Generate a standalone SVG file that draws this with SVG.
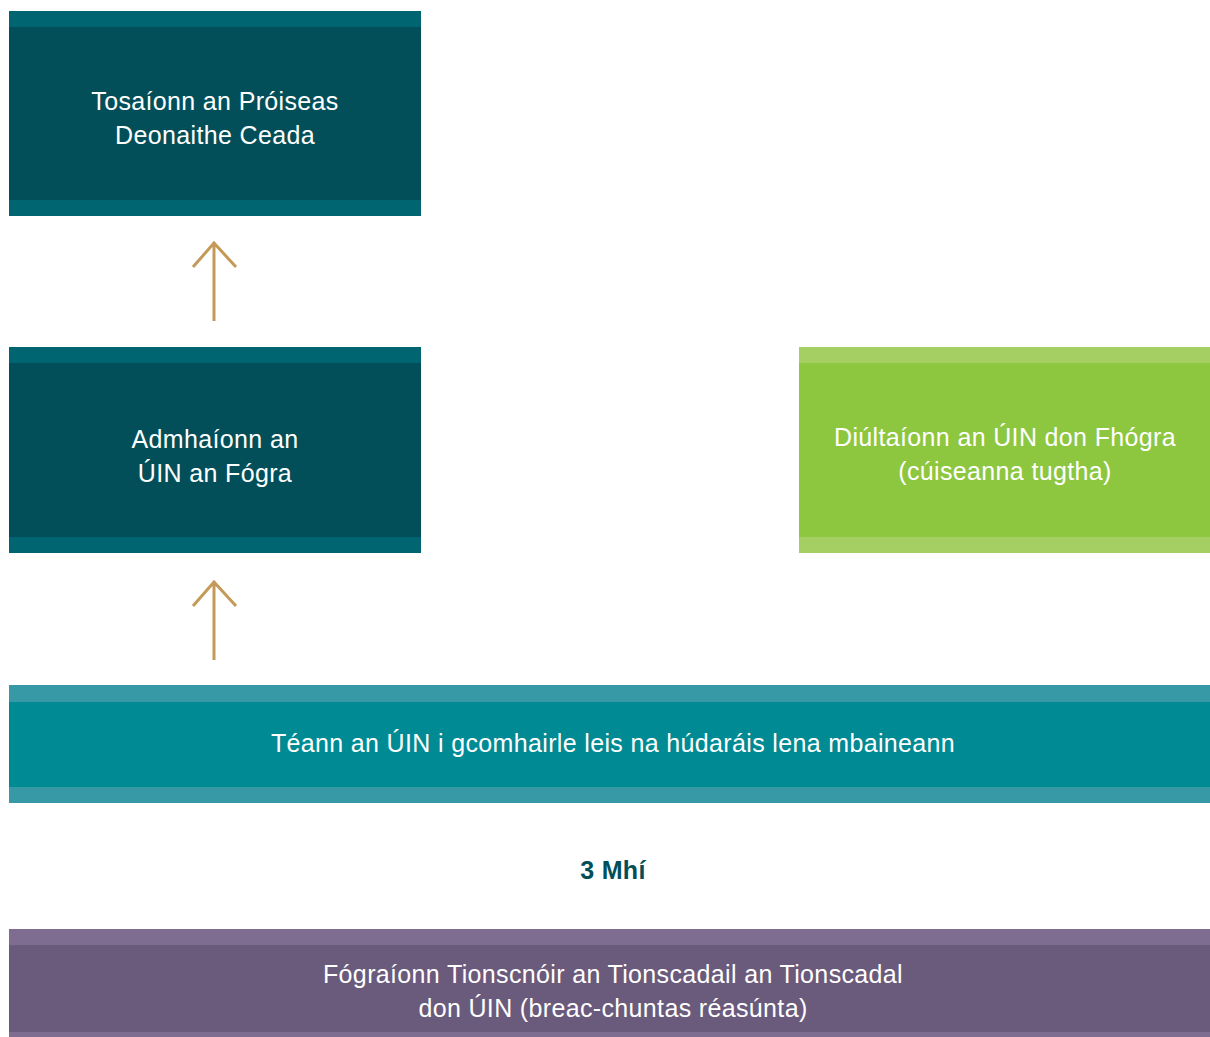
<svg xmlns="http://www.w3.org/2000/svg" width="1210" height="1037" viewBox="0 0 1210 1037">
<style>
.t{font-family:"Liberation Sans",Arial,sans-serif;font-size:25px;letter-spacing:0.35px;fill:#ffffff;text-anchor:middle}
.lbl{font-family:"Liberation Sans",Arial,sans-serif;font-size:25px;letter-spacing:0.3px;font-weight:bold;fill:#024f59;text-anchor:middle}
.arr{stroke:#c49a58;stroke-width:3;fill:none}
</style>
<rect width="1210" height="1037" fill="#ffffff"/>
<g id="node-start">
<rect x="9" y="11" width="412" height="205" fill="#024f59"/>
<rect x="9" y="11" width="412" height="16" fill="#006570"/>
<rect x="9" y="200" width="412" height="16" fill="#006570"/>
<text class="t" x="215" y="110">Tosaíonn an Próiseas</text>
<text class="t" x="215" y="144">Deonaithe Ceada</text>
</g>
<g id="node-accept">
<rect x="9" y="347" width="412" height="206" fill="#024f59"/>
<rect x="9" y="347" width="412" height="16" fill="#006570"/>
<rect x="9" y="537" width="412" height="16" fill="#006570"/>
<text class="t" x="215" y="448">Admhaíonn an</text>
<text class="t" x="215" y="482">ÚIN an Fógra</text>
</g>
<g id="node-reject">
<rect x="799" y="347" width="411" height="206" fill="#8dc63f"/>
<rect x="799" y="347" width="411" height="16" fill="#a5cf63"/>
<rect x="799" y="537" width="411" height="16" fill="#a5cf63"/>
<text class="t" x="1005" y="446">Diúltaíonn an ÚIN don Fhógra</text>
<text class="t" x="1005" y="480">(cúiseanna tugtha)</text>
</g>
<g id="node-consult">
<rect x="9" y="685" width="1201" height="118" fill="#008a94"/>
<rect x="9" y="685" width="1201" height="17" fill="#3799a6"/>
<rect x="9" y="787" width="1201" height="16" fill="#3799a6"/>
<text class="t" x="613" y="752">Téann an ÚIN i gcomhairle leis na húdaráis lena mbaineann</text>
</g>
<g id="node-duration">
<text class="lbl" x="613" y="879">3 Mhí</text>
</g>
<g id="node-notify">
<rect x="9" y="929" width="1201" height="108" fill="#6a5a7c"/>
<rect x="9" y="929" width="1201" height="16" fill="#7e6d90"/>
<rect x="9" y="1032" width="1201" height="5" fill="#7e6d90"/>
<text class="t" x="613" y="983">Fógraíonn Tionscnóir an Tionscadail an Tionscadal</text>
<text class="t" x="613" y="1017">don ÚIN (breac-chuntas réasúnta)</text>
</g>
<g id="connectors">
<path class="arr" d="M214 321 V242 M193 267 L214 243 L236 267"/>
<path class="arr" d="M214 660 V581 M193 606 L214 582 L236 606"/>
</g>
</svg>
